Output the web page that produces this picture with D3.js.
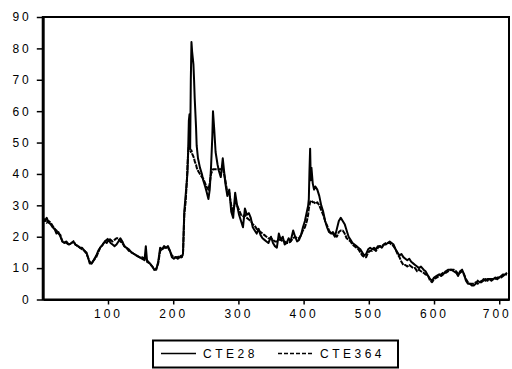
<!DOCTYPE html>
<html>
<head>
<meta charset="utf-8">
<script src="https://cdn.jsdelivr.net/npm/d3@7"></script>
<style>
  body { margin: 0; background: #fff; }
  svg { display: block; }
  text { font-family: "Liberation Sans", Arial, sans-serif; fill: #000; }
</style>
</head>
<body>
<svg id="chart" width="512" height="369"></svg>
<script>
const seriesNames = ["CTE28", "CTE364"];
const xTicks = [100, 200, 300, 400, 500, 600, 700];
const yTicks = [0, 10, 20, 30, 40, 50, 60, 70, 80, 90];

const days = [0,3,6,9,12,15,18,21,24,27,30,33,36,40,44,47,50,54,57,60,64,67,70,72,75,78,82,85,88,92,95,98,101,104,107,110,113,116,119,122,125,128,132,136,140,144,148,152,156,158,160,164,168,171,174,177,180,183,186,189,192,195,198,201,204,207,210,213,215,217,219,221,222,223,224,225,226,227,228,229,230,231,232,233,235,236,238,241,244,246,249,251,254,256,258,260,261,263,265,268,270,273,276,278,280,283,286,289,292,295,298,301,304,307,310,313,316,319,322,325,328,331,334,337,340,343,346,350,353,356,359,362,365,368,371,374,377,380,384,387,390,393,396,399,402,405,407,408,409,410,411,412,414,416,418,421,424,427,430,433,436,439,442,445,448,451,454,457,460,463,466,469,472,475,478,481,484,487,490,493,496,499,502,505,508,511,514,517,520,523,526,529,532,535,538,541,544,547,550,553,556,559,562,565,568,571,574,577,580,584,587,591,594,597,600,604,608,611,614,618,622,626,630,634,637,640,643,646,649,652,655,658,661,664,667,670,673,676,679,682,685,688,691,694,697,700,703,706,709,712];

const cte28 = [26,25,26,24.5,24,23,22.5,21,21.5,20,18.5,18,18.5,17.5,18,18.5,17.5,17,16.5,16.5,15.5,15,13,11.5,11.5,12.5,14,15.5,16.5,17.5,18.5,18,19,18,17.5,17,17.5,18.5,19.5,18.5,17,16.5,16,15,14.5,14,13.5,13,12.5,17,12,11.5,10.5,9.5,9.5,12,16.5,16,17,16.5,17,15.5,13.5,13,13.5,13,13.5,13.5,14.5,28,33,38,41,48,57,59,48,70,82,79,77,75,70,64,55,49,45,42,40,38,36,34.5,32,35,42,52,60,54,47,43,41,39,45,41,37,33,35,28,26,34,30,27,25,23,29,27,27.5,26,23,22,21,22.5,20.5,19.5,19,18.5,18,20,18,17,16.5,21,19,20,17.5,18,19.5,18.5,22,20,18.5,19,20.5,23,25,28,30,32,41,48,38,42,37,35,36,35,33,30,28,25,23,21.5,21,21,20,22.5,25,26,25,24,22,20,19,18,17.5,17,16.5,16,15,14,14.5,16,16.5,16,16.5,16,17,17,16.5,17.5,17.5,18,18.5,18,17.5,16,15,14,14.5,13.5,13,12.5,13,12,11.5,11,10.5,10,10.5,9.5,9,7.5,6.5,6,7,7.5,8,7.5,8,9,9.5,9.5,9,8.5,7.5,9,9.5,8,6,5,5,4.5,4.5,5,6,5.5,5.5,6.5,6,6.5,6.5,6,6.5,7,6.5,7,7.5,8,8,8];

const cte364 = [25,25.5,24.5,25,24.5,23.5,22.5,22,21,20.5,18.5,18.5,18,17.5,18,18.5,17.5,17,16.5,16,15.5,14.5,13,12,11.5,12.5,13.5,15,16.5,17.5,18.5,19,19.5,19,18.5,19,19.5,19.5,18.5,18,17,16.5,15.5,15,14.5,14,13.5,13.5,13,13,12.5,11.5,10.5,9.5,9.8,11.5,15.5,16,16.5,16.5,16.5,15.5,14,13.5,13.5,13.5,14,13.5,14.5,27,31,38,43,47,49,49,48,47,47.5,46.5,46,45.5,45,44,43,42,41,40,39,38.5,37,36,35,37,40,41,41.5,41.5,41.5,41.5,41.5,41.5,42,40,38,34,34,30,28,31,30,28.5,27,26.5,27,26,25.5,25,24,23.5,22.5,22,21.5,21,20.5,20,19.5,19.5,19,18.5,18.5,19,19,18.5,18.5,18,18,18.5,19.5,20,19.5,19.5,20.5,22,23,25,27,29,30,31,31.5,31.5,31,31,30.5,31,30,28.5,27,25,23.5,22,21,21.5,20.5,20,21.5,22,22,21,19.5,19,18.5,17.5,17,16.5,16,15,14,13.5,13.5,15,15.5,15.5,16,15.5,16.5,17,17,17.5,18,18,18,17.5,17,16,14.5,13.5,12,11,11,10.5,11,10.5,10,10,9,9.5,9,8.5,8,7.5,6,5.5,6.5,7,7.5,8,8.5,8.5,9,9.5,9.5,9,8,8.5,9,8,6.5,5.5,5,5,5,5.5,5,5.5,6,6,6.5,6,6.5,6.5,6.5,6.5,7,7,7,7.5,8,8.5];

const svg = d3.select("#chart");
const mLeft = 42.8, mRight = 509, mTop = 17, mBottom = 299.5;
const x = d3.scaleLinear().domain([0, 715]).range([mLeft, mRight]);
const y = d3.scaleLinear().domain([0, 90]).range([mBottom, mTop]);

// frame
svg.append("rect").attr("x", mLeft).attr("y", mTop)
  .attr("width", mRight - mLeft).attr("height", mBottom - mTop)
  .attr("fill", "none").attr("stroke", "#000").attr("stroke-width", 2);

// y axis
const yAxis = svg.append("g").attr("transform", `translate(${mLeft},0)`)
  .call(d3.axisLeft(y).tickValues(yTicks).tickSize(6).tickPadding(8).tickSizeOuter(0));
yAxis.select(".domain").attr("stroke-width", 2.8);
yAxis.selectAll(".tick line").attr("stroke-width", 1.5);
yAxis.selectAll(".tick text").attr("font-size", 12).attr("letter-spacing", "3px")
  .attr("font-family", "Liberation Sans, Arial, sans-serif").attr("dx", 3);

// x axis
const xAxis = svg.append("g").attr("transform", `translate(0,${mBottom})`)
  .call(d3.axisBottom(x).tickValues(xTicks).tickSize(5).tickPadding(5).tickSizeOuter(0));
xAxis.select(".domain").attr("stroke-width", 2);
xAxis.selectAll(".tick line").attr("stroke-width", 1.5);
xAxis.selectAll(".tick text").attr("font-size", 12).attr("letter-spacing", "3px")
  .attr("font-family", "Liberation Sans, Arial, sans-serif")
  .attr("dx", (d, i) => i === xTicks.length - 1 ? -2.5 : 0);

// lines
const line = vals => d3.line().x((d, i) => x(days[i])).y(d => y(d))(vals);
svg.append("path").attr("d", line(cte364)).attr("fill", "none")
  .attr("stroke", "#000").attr("stroke-width", 2).attr("stroke-dasharray", "5,1")
  .attr("stroke-linejoin", "round");
svg.append("path").attr("d", line(cte28)).attr("fill", "none")
  .attr("stroke", "#000").attr("stroke-width", 2).attr("stroke-linejoin", "round");

// legend
const lg = svg.append("g");
lg.append("rect").attr("x", 153).attr("y", 340.5).attr("width", 245).attr("height", 27)
  .attr("fill", "none").attr("stroke", "#000").attr("stroke-width", 2);
const legendItems = [
  { name: seriesNames[0], x0: 161, dash: null, tx: 203 },
  { name: seriesNames[1], x0: 278, dash: "4,2", tx: 320 }
];
legendItems.forEach(it => {
  lg.append("line").attr("x1", it.x0).attr("x2", it.x0 + 35).attr("y1", 353.5).attr("y2", 353.5)
    .attr("stroke", "#000").attr("stroke-width", 1.5).attr("stroke-dasharray", it.dash);
  lg.append("text").attr("x", it.tx).attr("y", 358).attr("font-size", 12)
    .attr("letter-spacing", "3.5px").text(it.name);
});
</script>
</body>
</html>
